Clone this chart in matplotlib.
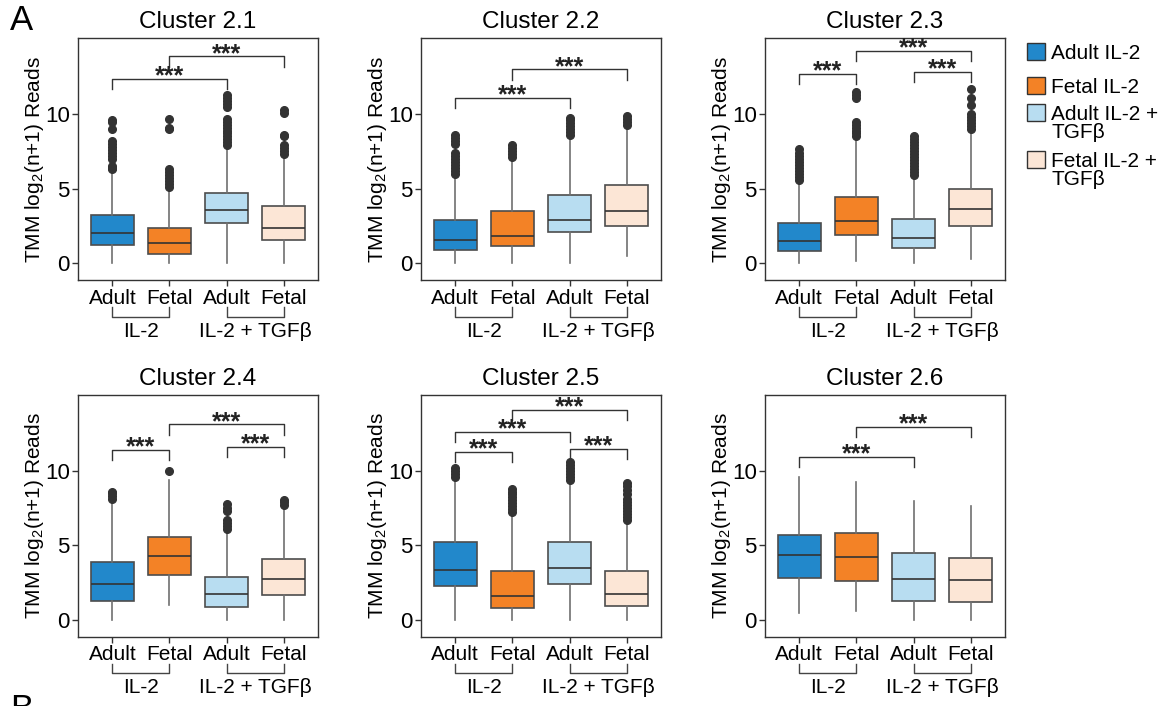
import matplotlib
matplotlib.use("Agg")
import matplotlib.pyplot as plt
from matplotlib.patches import Rectangle

plt.rcParams['font.family'] = ['Liberation Sans', 'DejaVu Sans']
plt.rcParams['mathtext.fontset'] = 'custom'
plt.rcParams['mathtext.rm'] = 'Liberation Sans'
plt.rcParams['mathtext.it'] = 'Liberation Sans:italic'

# --- data ---
clusters = ["Cluster 2.1", "Cluster 2.2", "Cluster 2.3",
            "Cluster 2.4", "Cluster 2.5", "Cluster 2.6"]
groups = ["Adult IL-2", "Fetal IL-2", "Adult IL-2 +\nTGFβ", "Fetal IL-2 +\nTGFβ"]
tick_labels = ["Adult", "Fetal", "Adult", "Fetal"]
conditions = ["IL-2", "IL-2 + TGFβ"]
colors = ["#2288CB", "#F38226", "#B8DDF1", "#FCE6D6"]

# per cluster, per group: Adult IL-2, Fetal IL-2, Adult TGFb, Fetal TGFb
whislo = [[0.0, 0.0, 0.0, 0.0],
          [0.0, 0.0, 0.0, 0.45],
          [0.0, 0.15, 0.0, 0.27],
          [0.0, 1.0, 0.0, 0.0],
          [0.0, 0.0, 0.0, 0.0],
          [0.42, 0.56, 0.0, 0.0]]
q1 = [[1.21, 0.60, 2.71, 1.52],
      [0.85, 1.12, 2.08, 2.52],
      [0.83, 1.92, 1.00, 2.52],
      [1.25, 2.99, 0.85, 1.67],
      [2.25, 0.80, 2.41, 0.94],
      [2.83, 2.57, 1.27, 1.16]]
medians = [[1.99, 1.34, 3.58, 2.37],
           [1.56, 1.83, 2.88, 3.53],
           [1.50, 2.83, 1.72, 3.62],
           [2.37, 4.24, 1.70, 2.70],
           [3.33, 1.60, 3.48, 1.72],
           [4.33, 4.20, 2.70, 2.66]]
q3 = [[3.22, 2.35, 4.74, 3.85],
      [2.90, 3.48, 4.58, 5.22],
      [2.68, 4.46, 2.97, 4.98],
      [3.84, 5.56, 2.86, 4.08],
      [5.18, 3.28, 5.22, 3.26],
      [5.71, 5.83, 4.46, 4.13]]
whishi = [[6.2, 5.0, 7.8, 7.2],
          [5.9, 7.0, 8.5, 9.2],
          [5.5, 8.4, 5.8, 8.9],
          [7.9, 9.4, 5.9, 7.5],
          [9.4, 7.0, 9.3, 6.5],
          [9.58, 9.22, 7.99, 7.66]]
fliers = [
    [[6.3, 6.4, 6.5, 7.0, 7.2, 7.4, 7.6, 7.8, 8.0, 8.2, 9.0, 9.5, 9.6],
     [5.1, 5.3, 5.5, 5.7, 5.9, 6.1, 6.3, 9.0, 9.1, 9.7],
     [7.9, 8.1, 8.3, 8.5, 8.7, 8.9, 9.1, 9.3, 9.5, 9.7, 10.5, 10.7, 10.9, 11.1, 11.3],
     [7.3, 7.5, 7.7, 7.9, 8.5, 8.6, 10.1, 10.25]],
    [[6.0, 6.2, 6.4, 6.6, 6.8, 7.0, 7.2, 7.4, 8.0, 8.2, 8.4, 8.6],
     [7.1, 7.3, 7.5, 7.7, 7.9],
     [8.6, 8.8, 9.0, 9.2, 9.4, 9.6, 9.75],
     [9.3, 9.5, 9.7, 9.9]],
    [[5.6, 5.8, 6.0, 6.2, 6.4, 6.6, 6.8, 7.0, 7.2, 7.4, 7.65],
     [8.5, 8.7, 8.9, 9.1, 9.3, 9.45, 11.1, 11.3, 11.5],
     [5.9, 6.1, 6.3, 6.5, 6.7, 6.9, 7.1, 7.3, 7.5, 7.7, 7.9, 8.1, 8.3, 8.5],
     [9.0, 9.2, 9.4, 9.6, 9.8, 10.0, 10.6, 11.1, 11.7]],
    [[8.1, 8.3, 8.5, 8.6],
     [9.95],
     [6.1, 6.3, 6.5, 6.7, 7.3, 7.5, 7.75],
     [7.7, 7.9, 8.0]],
    [[9.6, 9.8, 10.0, 10.2],
     [7.2, 7.4, 7.6, 7.8, 8.0, 8.2, 8.4, 8.6, 8.8],
     [9.4, 9.6, 9.8, 10.0, 10.2, 10.4, 10.6],
     [6.7, 6.9, 7.1, 7.3, 7.5, 7.7, 7.9, 8.1, 8.4, 8.7, 9.0, 9.15]],
    [[], [], [], []],
]
# significance brackets: (from group, to group, height)
sig_pairs = [
    [(1, 3, 12.35), (2, 4, 13.87)],
    [(1, 3, 11.07), (2, 4, 13.0)],
    [(1, 2, 12.68), (3, 4, 12.86), (2, 4, 14.25)],
    [(1, 2, 11.38), (3, 4, 11.6), (2, 4, 13.1)],
    [(1, 2, 11.27), (3, 4, 11.47), (1, 3, 12.59), (2, 4, 14.1)],
    [(1, 3, 10.94), (2, 4, 12.92)],
]

positions = [1, 2, 3, 4]
cond_pairs = [(1, 2), (3, 4)]

fig = plt.figure(figsize=(11.63, 7.06), dpi=100)

lefts = [0.0671, 0.362, 0.6578]
bottoms = [0.603, 0.098]
w, h = 0.2064, 0.343

for k, name in enumerate(clusters):
    ax = fig.add_axes([lefts[k % 3], bottoms[k // 3], w, h])
    stats = []
    for g in range(4):
        stats.append(dict(med=medians[k][g], q1=q1[k][g], q3=q3[k][g],
                          whislo=whislo[k][g], whishi=whishi[k][g],
                          fliers=fliers[k][g]))
    bp = ax.bxp(stats, positions=positions, widths=0.75, patch_artist=True,
                showcaps=False,
                boxprops=dict(edgecolor='#4d4d4d', linewidth=1.2),
                medianprops=dict(color='#333333', linewidth=1.2),
                whiskerprops=dict(color='#707070', linewidth=1.2),
                flierprops=dict(marker='o', markerfacecolor='#333333',
                                markeredgecolor='#333333', markersize=5.5))
    for patch, c in zip(bp['boxes'], colors):
        patch.set_facecolor(c)

    # significance brackets
    for a, b, y in sig_pairs[k]:
        ax.plot([a, a, b, b], [y - 0.68, y, y, y - 0.68], color='#333333', lw=1)
        ax.text((a + b) / 2, y - 0.3, "***", ha='center', va='baseline',
                fontsize=18, fontweight='bold', color='#222222')

    # condition brackets under x labels
    tr = ax.get_xaxis_transform()
    for (a, b), lab in zip(cond_pairs, conditions):
        ax.plot([a, a, b, b], [-0.112, -0.15, -0.15, -0.112], transform=tr,
                clip_on=False, color='#444444', lw=1)
        ax.text((a + b) / 2, -0.21, lab, transform=tr, ha='center', va='center',
                fontsize=15)

    ax.set_xlim(0.4, 4.6)
    ax.set_ylim(-1.15, 15.1)
    ax.set_xticks(positions, tick_labels)
    ax.set_yticks([0, 5, 10])
    ax.tick_params(length=4, width=1, color='#333333', labelsize=15)
    ax.tick_params(axis='x', pad=2)
    ax.tick_params(axis='y', pad=2, labelsize=16)
    for s in ax.spines.values():
        s.set_color('#333333')
        s.set_linewidth(1)
    ax.set_title(name, fontsize=17.5, pad=7)
    ax.set_ylabel("TMM log$_2$(n+1) Reads", fontsize=15, labelpad=-1)

# legend drawn by hand so the square sits on the first text line
leg_tops = [43, 77, 104, 151]
for top, c, lab in zip(leg_tops, colors, groups):
    fig.patches.append(Rectangle((1027 / 1163, 1 - (top + 17) / 706), 18 / 1163, 17 / 706,
                                 facecolor=c, edgecolor='#333333', lw=1,
                                 transform=fig.transFigure, figure=fig))
    fig.text(1051 / 1163, 1 - (top + 1) / 706, lab, fontsize=15, va='top', ha='left',
             linespacing=0.95)

fig.text(10 / 1163, 1 - 30 / 706, "A", fontsize=25, va='baseline')
fig.text(10 / 1163, 1 - 719 / 706, "B", fontsize=25, va='baseline')

fig.savefig("out.png", dpi=100)
